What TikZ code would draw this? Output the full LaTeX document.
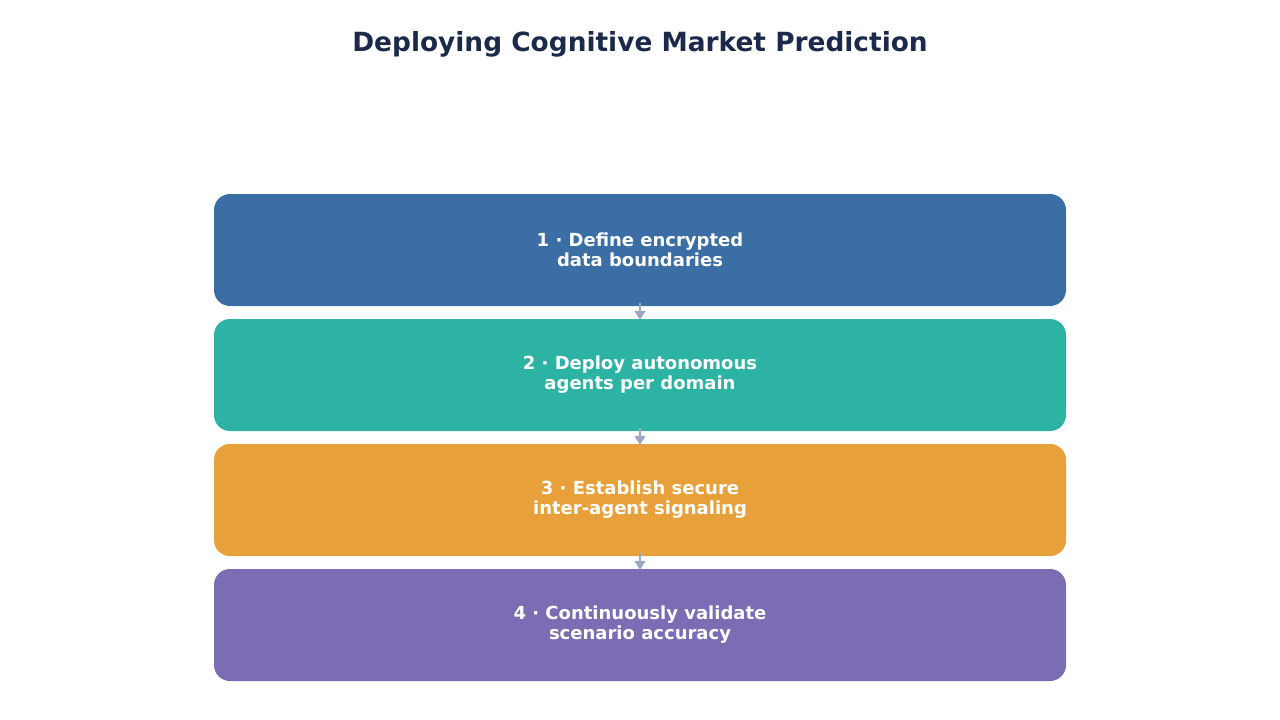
\documentclass[tikz,border=0pt]{standalone}
\usepackage{fontspec}
\setmainfont{DejaVu Sans}
\usetikzlibrary{arrows.meta}
\definecolor{titlec}{HTML}{1B2A4A}
\definecolor{c1}{HTML}{3B6EA5}
\definecolor{c2}{HTML}{2CB3A4}
\definecolor{c3}{HTML}{E8A13A}
\definecolor{c4}{HTML}{7B6CB3}
\definecolor{arr}{HTML}{9AA8C0}
\tikzset{
  stepbox/.style={rounded corners=16pt, minimum width=852pt, minimum height=112pt, inner sep=0pt, align=center, text=white, font=\fontsize{18}{20}\selectfont\bfseries},
  conn/.style={draw=arr, line width=1.5pt, -{Triangle[length=9pt,width=11pt]}}
}
\begin{document}
\begin{tikzpicture}[x=1pt,y=-1pt]
\useasboundingbox (0,0) rectangle (1280,720);
\node[font=\fontsize{26.4}{30}\selectfont\bfseries, text=titlec] (title) at (640,44) {Deploying Cognitive Market Prediction};
\node[stepbox, fill=c1] (s1) at (640,250) {1 · Define encrypted\\data boundaries};
\node[stepbox, fill=c2] (s2) at (640,375) {2 · Deploy autonomous\\agents per domain};
\node[stepbox, fill=c3] (s3) at (640,500) {3 · Establish secure\\inter-agent signaling};
\node[stepbox, fill=c4] (s4) at (640,625) {4 · Continuously validate\\scenario accuracy};
\draw[conn] ([yshift=3pt]s1.south) -- ([yshift=-1pt]s2.north);
\draw[conn] ([yshift=3pt]s2.south) -- ([yshift=-1pt]s3.north);
\draw[conn] ([yshift=3pt]s3.south) -- ([yshift=-1pt]s4.north);
\end{tikzpicture}
\end{document}
